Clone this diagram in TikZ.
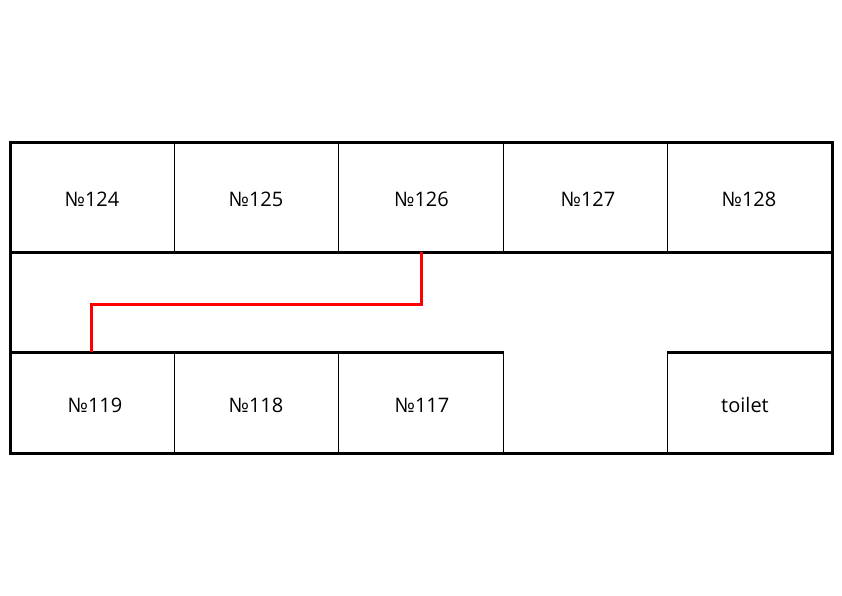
\documentclass[tikz,border=0pt]{standalone}
\usepackage{fontspec}
\setmainfont{Open Sans}
\tikzset{
  thickwall/.style={draw=black,line width=3pt},
  thinwall/.style={draw=black,line width=0.9pt},
  route/.style={draw=red,line width=3pt},
  room/.style={inner sep=0pt,font=\fontsize{20pt}{24pt}\selectfont,text=black,anchor=base}
}
\begin{document}
\begin{tikzpicture}[x=1pt,y=-1pt]
\useasboundingbox (0,0) rectangle (842,595);
% partitions
\foreach \xx in {174,338.5,503,667.5}{
  \draw[thinwall] (\xx,142) -- (\xx,252);
  \draw[thinwall] (\xx,352) -- (\xx,453);
}
% walls
\draw[thickwall] (10.1,142) rectangle (832,453.2);
\draw[thickwall] (10.1,252) -- (832,252);
\draw[thickwall] (10.1,352.2) -- (503.5,352.2);
\draw[thickwall] (666.8,352.2) -- (832,352.2);
% route
\coordinate (start) at (421,252);
\coordinate (finish) at (91,352);
\coordinate (bendA) at (421,304);
\coordinate (bendB) at (91,304);
\draw[route] (start) -- (bendA) -- (bendB) -- (finish);
% labels
\node[room] (r124) at (92,206.7) {№124};
\node[room] (r125) at (256,206.7) {№125};
\node[room] (r126) at (421.5,206.7) {№126};
\node[room] (r127) at (588,206.7) {№127};
\node[room] (r128) at (749,206.7) {№128};
\node[room] (r119) at (95,412.6) {№119};
\node[room] (r118) at (256,412.6) {№118};
\node[room] (r117) at (422,412.6) {№117};
\node[room] (toilet) at (745,412.6) {toilet};
\end{tikzpicture}
\end{document}
